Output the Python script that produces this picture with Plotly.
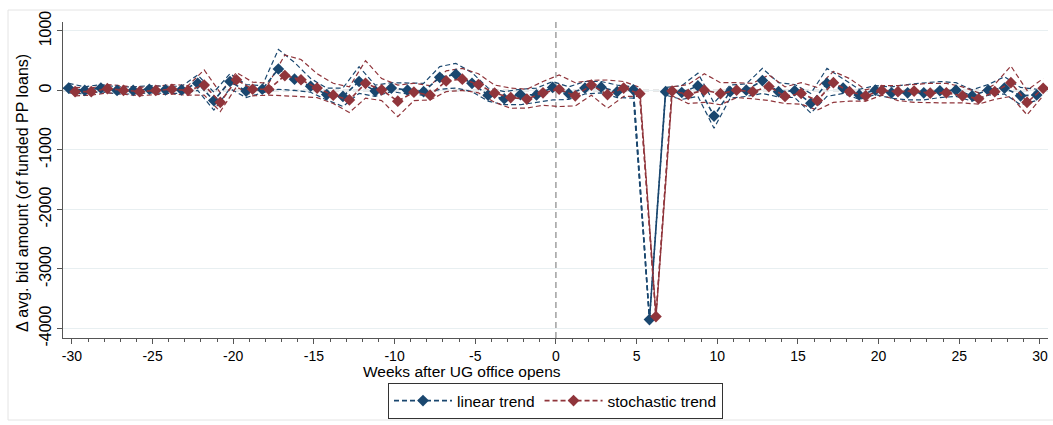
import plotly.graph_objects as go

weeks = list(range(-30, 31))

lin_est = [40, 0, 40, 0, 0, 20, 10, 10, 120, -170, 150, -10, 20, 360, 190, 70, -70, -100, 150, -10,
           40, 5, -20, 220, 270, 120, -80, -140, -70, -75, 50, -55, 40, 55, -20, 10, -3850, -20, -35, 75,
           -430, -20, 5, 165, -20, -5, -215, 120, 40, -75, 5, -40, -40, -40, -5, 5, -90, 5, 40, -90, -75]
lin_lo = [-40, -60, -20, -60, -60, -40, -50, -50, 0, -330, 30, -120, -40, 20, 0, -30, -160, -270, -50, -100,
          -20, -60, -80, 20, 40, -20, -180, -240, -240, -200, -160, -150, -60, -40, -120, -130, -3880, -80, -150, -100,
          -635, -130, -100, -50, -110, -120, -380, -100, -50, -150, -70, -130, -160, -160, -120, -100, -180, -80, -60, -240, -170]
lin_hi = [120, 60, 100, 60, 60, 80, 70, 70, 260, -30, 280, 100, 80, 690, 470, 200, 40, 40, 400, 90,
          130, 130, 120, 400, 455, 300, 40, -20, 20, 40, 150, 60, 150, 150, 90, 60, -3820, 50, 80, 290,
          -210, 90, 110, 370, 130, 100, -50, 370, 200, 20, 80, 60, 100, 130, 150, 130, 10, 100, 230, 50, 20]

sto_est = [-20, -20, 30, 0, -20, 0, 20, 0, 90, -200, 180, 20, 20, 250, 180, 40, -80, -160, 120, 10,
           -180, -30, -80, 160, 190, 100, -45, -120, -145, -40, 20, -90, 90, -70, 40, -55, -3800, -10, -65, 5,
           -55, 5, -20, 65, -100, -50, -170, 130, -20, -90, 0, -20, -10, -45, -40, -90, -140, -20, 130, -200, 35]
sto_lo = [-90, -80, -40, -70, -90, -70, -60, -80, -80, -355, 60, -90, -80, -90, -100, -120, -220, -370, -130, -170,
          -440, -170, -160, -20, 0, -40, -200, -300, -295, -250, -270, -260, -80, -300, -100, -100, -3830, -90, -220, -200,
          -240, -120, -140, -170, -220, -230, -330, -200, -180, -180, -80, -170, -200, -210, -210, -210, -230, -150, -100, -410, -90]
sto_hi = [50, 40, 100, 70, 50, 70, 100, 80, 345, -40, 300, 140, 120, 595, 520, 280, 120, 60, 500, 200,
          90, 120, 80, 330, 370, 280, 90, 40, 20, 150, 260, 130, 170, 175, 150, 50, -3770, 60, 100, 280,
          130, 130, 120, 260, 60, 130, 50, 320, 200, 10, 80, 80, 100, 120, 120, 60, -40, 100, 410, 0, 200]

xtick_vals = list(range(-30, 31, 5))
xtick_text = [str(v) for v in xtick_vals]
ytick_vals = [1000, 0, -1000, -2000, -3000, -4000]
ytick_text = [str(v) for v in ytick_vals]

NAVY = "#1a476f"
MAROON = "#90353b"
OFFSET = 0.2

fig = go.Figure()

series = [
    ("linear trend", NAVY, -OFFSET, lin_est, lin_lo, lin_hi),
    ("stochastic trend", MAROON, OFFSET, sto_est, sto_lo, sto_hi),
]

for name, col, off, est, lo, hi in series:
    xs = [w + off for w in weeks]
    for band in (lo, hi):
        fig.add_trace(go.Scatter(x=xs, y=band, mode="lines",
                                 line=dict(color=col, width=1.2, dash="5px,3px"),
                                 showlegend=False, hoverinfo="skip"))

for name, col, off, est, lo, hi in series:
    xs = [w + off for w in weeks]
    fig.add_trace(go.Scatter(x=xs, y=est, mode="lines+markers", name=name,
                             line=dict(color=col, width=1.6, dash="5px,3px"),
                             marker=dict(symbol="diamond", size=9, color=col)))

# reference lines
fig.add_shape(type="line", xref="x", yref="y", x0=-30.55, x1=30.5, y0=0, y1=0,
              line=dict(color="#a0a0a0", width=1.5, dash="6px,4px"), layer="below")
fig.add_shape(type="line", xref="x", yref="paper", x0=0, x1=0, y0=0, y1=1,
              line=dict(color="#a0a0a0", width=1.5, dash="6px,4px"), layer="below")

# outer graph-region frame
L, T, W, H = 63, 22, 985, 316
def px_x(p):
    return (p - L) / W
def px_y(p):
    return (T + H - p) / H
fig.add_shape(type="rect", xref="paper", yref="paper",
              x0=px_x(8), x1=px_x(1060), y0=px_y(420), y1=px_y(10),
              line=dict(color="#e4e4e4", width=1), layer="below")

fig.add_annotation(text="Weeks after UG office opens", xref="paper", yref="paper",
                   x=px_x(462), y=px_y(371), xanchor="center", yanchor="middle",
                   showarrow=False, font=dict(size=15.5, color="#000000"))
fig.add_annotation(text="Δ avg. bid amount (of funded PP loans)", xref="paper", yref="paper",
                   x=px_x(22), y=px_y(193), xanchor="center", yanchor="middle",
                   textangle=-90, showarrow=False, font=dict(size=16, color="#000000"))

fig.update_layout(
    width=1053, height=425,
    margin=dict(l=L, r=1053 - L - W, t=T, b=425 - T - H),
    paper_bgcolor="white", plot_bgcolor="white",
    font=dict(family="Liberation Sans, Arial, sans-serif", size=15, color="#000000"),
    showlegend=True,
    legend=dict(orientation="h", x=0.5, xanchor="center", y=px_y(383), yanchor="top",
                bordercolor="#333333", borderwidth=1, bgcolor="white",
                font=dict(size=15.5), itemwidth=58, tracegroupgap=0),
)

fig.update_xaxes(range=[-30.55, 30.5], tickmode="array", tickvals=xtick_vals, ticktext=xtick_text,
                 showgrid=False, zeroline=False, showline=True, linecolor="#555555", linewidth=1.2,
                 ticks="outside", ticklen=5, tickcolor="#555555", tickfont=dict(size=14),
                 minor=dict(tickmode="linear", tick0=0, dtick=1, ticks="outside", ticklen=3,
                            tickcolor="#555555", showgrid=False))
fig.update_yaxes(range=[-4160, 1150], tickmode="array", tickvals=ytick_vals, ticktext=ytick_text,
                 tickangle=-90, showgrid=True, gridcolor="#e8eff1", gridwidth=1,
                 zeroline=False, showline=True, linecolor="#555555", linewidth=1.2,
                 ticks="outside", ticklen=5, tickcolor="#555555", tickfont=dict(size=16))

fig.write_html("out.html")
